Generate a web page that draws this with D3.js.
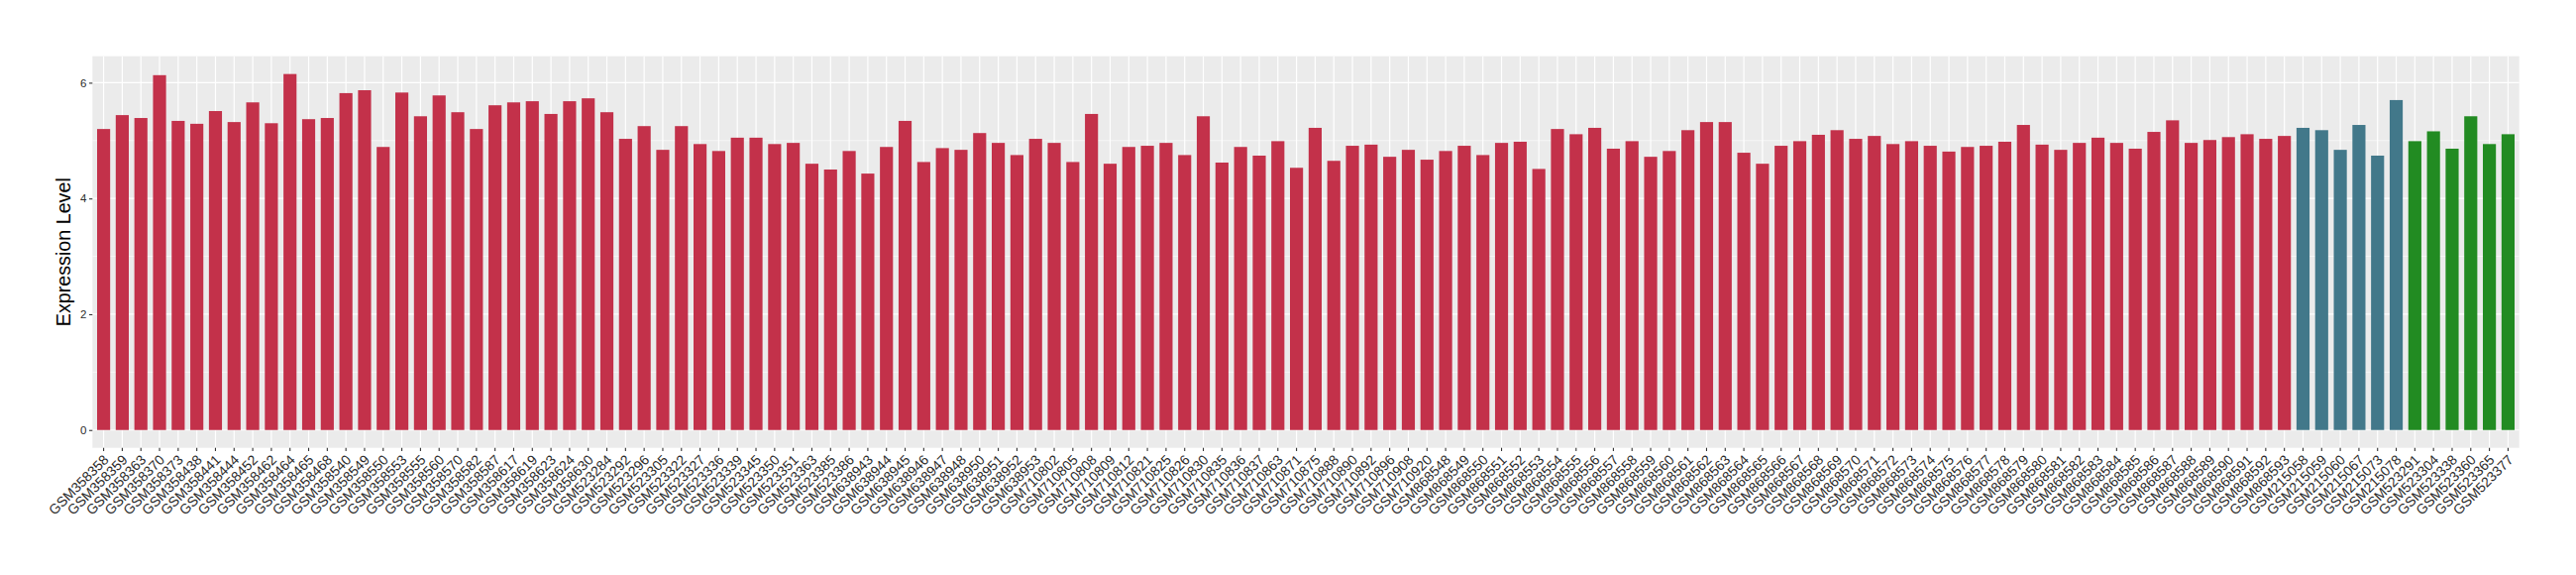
<!DOCTYPE html>
<html>
<head>
<meta charset="utf-8">
<script src="https://cdn.jsdelivr.net/npm/d3@7"></script>
<style>
  html, body { margin: 0; padding: 0; background: #ffffff; }
  svg { display: block; }
  text { font-family: "Liberation Sans", Arial, Helvetica, sans-serif; }
</style>
</head>
<body>
<svg id="chart" width="2600" height="580"></svg>
<script>
// ---- Data ----
const redSamples = [
  "GSM358358","GSM358359","GSM358363","GSM358370","GSM358373","GSM358438","GSM358441","GSM358444","GSM358452","GSM358462",
  "GSM358464","GSM358465","GSM358468","GSM358540","GSM358549","GSM358550","GSM358553","GSM358555","GSM358560","GSM358570",
  "GSM358582","GSM358587","GSM358617","GSM358619","GSM358623","GSM358624","GSM358630",
  "GSM523284","GSM523292","GSM523296","GSM523305","GSM523322","GSM523327","GSM523336","GSM523339","GSM523345","GSM523350",
  "GSM523351","GSM523363","GSM523385","GSM523386",
  "GSM638943","GSM638944","GSM638945","GSM638946","GSM638947","GSM638948","GSM638950","GSM638951","GSM638952","GSM638953",
  "GSM710802","GSM710805","GSM710808","GSM710809","GSM710812","GSM710821","GSM710825","GSM710826","GSM710830","GSM710835",
  "GSM710836","GSM710837","GSM710863","GSM710871","GSM710875","GSM710888","GSM710890","GSM710892","GSM710896","GSM710908",
  "GSM710920",
  "GSM868548","GSM868549","GSM868550","GSM868551","GSM868552","GSM868553","GSM868554","GSM868555","GSM868556","GSM868557",
  "GSM868558","GSM868559","GSM868560","GSM868561","GSM868562","GSM868563","GSM868564","GSM868565","GSM868566","GSM868567",
  "GSM868568","GSM868569","GSM868570","GSM868571","GSM868572","GSM868573","GSM868574","GSM868575","GSM868576","GSM868577",
  "GSM868578","GSM868579","GSM868580","GSM868581","GSM868582","GSM868583","GSM868584","GSM868585","GSM868586","GSM868587",
  "GSM868588","GSM868589","GSM868590","GSM868591","GSM868592","GSM868593"
];
const redValues = [
  5.20,5.44,5.39,6.13,5.34,5.29,5.51,5.32,5.66,5.30,
  6.15,5.37,5.39,5.82,5.87,4.89,5.83,5.42,5.78,5.49,
  5.20,5.61,5.66,5.68,5.46,5.68,5.73,
  5.49,5.03,5.25,4.84,5.25,4.94,4.82,5.05,5.05,4.94,
  4.96,4.60,4.50,4.82,
  4.43,4.89,5.34,4.63,4.87,4.84,5.13,4.96,4.75,5.03,
  4.96,4.63,5.46,4.60,4.89,4.91,4.96,4.75,5.42,4.62,
  4.89,4.74,4.99,4.53,5.22,4.65,4.91,4.93,4.72,4.84,
  4.67,
  4.82,4.91,4.75,4.96,4.98,4.51,5.20,5.11,5.22,4.86,
  4.99,4.72,4.82,5.18,5.32,5.32,4.79,4.60,4.91,4.99,
  5.10,5.18,5.03,5.08,4.94,4.99,4.91,4.81,4.89,4.91,
  4.98,5.27,4.93,4.84,4.96,5.05,4.96,4.86,5.15,5.35,
  4.96,5.01,5.06,5.11,5.03,5.08
];
const blueSamples = ["GSM215058","GSM215059","GSM215060","GSM215067","GSM215073","GSM215078"];
const blueValues  = [5.22,5.18,4.84,5.27,4.74,5.70];
const greenSamples = ["GSM523291","GSM523304","GSM523338","GSM523360","GSM523365","GSM523377"];
const greenValues  = [4.99,5.16,4.86,5.42,4.94,5.11];
const groupColors = { red: "#C3314A", blue: "#42788A", green: "#228B22" };
const yTicks = [0, 2, 4, 6];
const yMinorTicks = [1, 3, 5];
const yTitle = "Expression Level";

// ---- Build table ----
const rows = [];
redSamples.forEach((s, i) => rows.push({ sample: s, value: redValues[i], group: "red" }));
blueSamples.forEach((s, i) => rows.push({ sample: s, value: blueValues[i], group: "blue" }));
greenSamples.forEach((s, i) => rows.push({ sample: s, value: greenValues[i], group: "green" }));

// ---- Layout ----
const panel = { left: 93.3, right: 2542.7, top: 56.7, bottom: 451.7 };
const svg = d3.select("#chart");

const maxV = d3.max(rows, d => d.value);
const pad = maxV * 0.05;
const y = d3.scaleLinear().domain([-pad, maxV + pad]).range([panel.bottom, panel.top]);
const x = d3.scaleBand().domain(rows.map(d => d.sample))
  .range([panel.left, panel.right]).paddingInner(0.3).paddingOuter(0.25);

// Panel background
svg.append("rect")
  .attr("x", panel.left).attr("y", panel.top)
  .attr("width", panel.right - panel.left).attr("height", panel.bottom - panel.top)
  .attr("fill", "#EBEBEB");

// Minor horizontal grid
svg.append("g").selectAll("line").data(yMinorTicks).join("line")
  .attr("x1", panel.left).attr("x2", panel.right)
  .attr("y1", d => y(d)).attr("y2", d => y(d))
  .attr("stroke", "#ffffff").attr("stroke-width", 0.6);

// Major horizontal grid
svg.append("g").selectAll("line").data(yTicks).join("line")
  .attr("x1", panel.left).attr("x2", panel.right)
  .attr("y1", d => y(d)).attr("y2", d => y(d))
  .attr("stroke", "#ffffff").attr("stroke-width", 1.2);

// Major vertical grid
svg.append("g").selectAll("line").data(rows).join("line")
  .attr("x1", d => x(d.sample) + x.bandwidth() / 2).attr("x2", d => x(d.sample) + x.bandwidth() / 2)
  .attr("y1", panel.top).attr("y2", panel.bottom)
  .attr("stroke", "#ffffff").attr("stroke-width", 1.2);

// Bars
svg.append("g").selectAll("rect").data(rows).join("rect")
  .attr("x", d => x(d.sample))
  .attr("width", x.bandwidth())
  .attr("y", d => y(d.value))
  .attr("height", d => y(0) - y(d.value))
  .attr("fill", d => groupColors[d.group]);

// Y axis
const yAxis = d3.axisLeft(y).tickValues(yTicks).tickSize(3.3).tickPadding(2.5).tickFormat(d3.format("d"));
const yg = svg.append("g").attr("transform", `translate(${panel.left},0)`).call(yAxis);
yg.select(".domain").remove();
yg.selectAll(".tick line").attr("stroke", "#333333").attr("stroke-width", 1.1);
yg.selectAll(".tick text").attr("fill", "#2b2b2b").style("font-size", "11.5px")
  .style("font-family", "'Liberation Sans', Arial, sans-serif");

// X axis
const xAxis = d3.axisBottom(x).tickSize(3.3).tickSizeOuter(0);
const xg = svg.append("g").attr("transform", `translate(0,${panel.bottom})`).call(xAxis);
xg.select(".domain").remove();
xg.selectAll(".tick line").attr("stroke", "#333333").attr("stroke-width", 1.1);
xg.selectAll(".tick text")
  .attr("fill", "#2b2b2b")
  .style("font-size", "14px")
  .style("font-family", "'Liberation Sans', Arial, sans-serif")
  .attr("text-anchor", "end")
  .attr("dy", null)
  .attr("y", 0)
  .attr("transform", "translate(6,13) rotate(-45)");

// Y title
svg.append("text")
  .attr("transform", `translate(71,${(panel.top + panel.bottom) / 2}) rotate(-90)`)
  .attr("text-anchor", "middle")
  .style("font-size", "19.7px")
  .attr("fill", "#000000")
  .text(yTitle);
</script>
</body>
</html>
